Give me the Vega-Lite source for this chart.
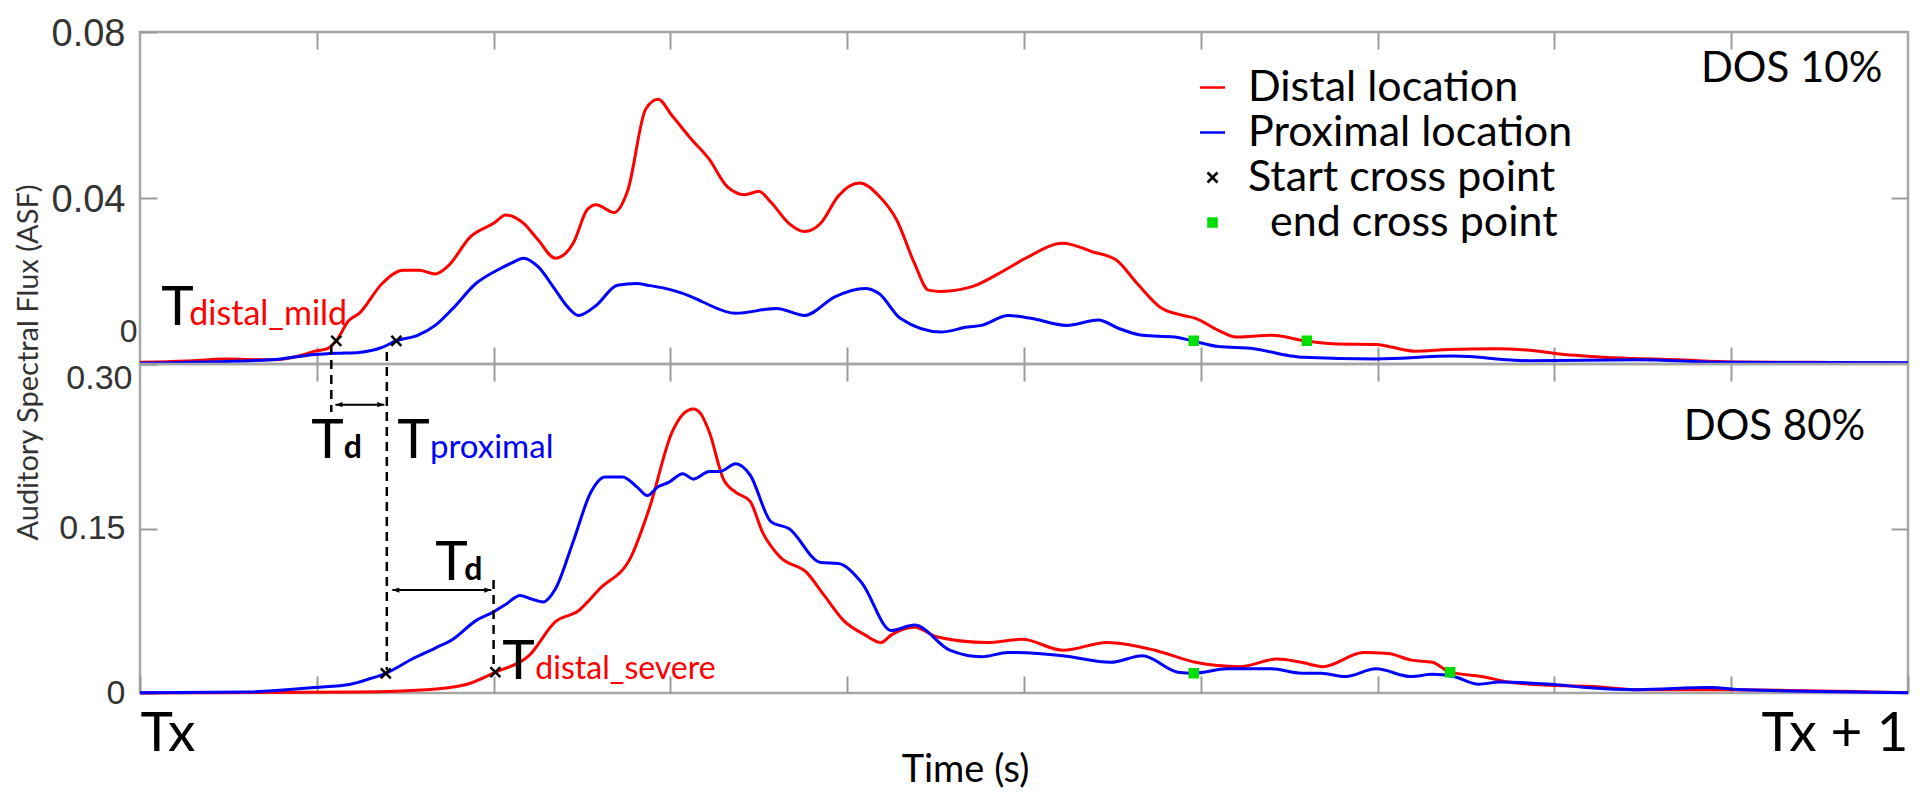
{
  "$schema": "https://vega.github.io/schema/vega-lite/v6.json",
  "background": "white",
  "padding": {"left": 12, "top": 13, "right": 5, "bottom": 0},
  "bounds": "flush",
  "spacing": 0,
  "config": {
    "view": {"stroke": "#a6a6a6", "strokeWidth": 2.5},
    "axis": {"domain": false, "grid": false, "tickSize": -17, "tickColor": "#9a9a9a", "tickWidth": 2},
    "font": "Lato"
  },
  "datasets": {
    "top_lines": [
      {"x":0,"y":0.0004,"s":"Distal location"},{"x":0.026,"y":0.0007,"s":"Distal location"},{"x":0.048,"y":0.0012,"s":"Distal location"},{"x":0.074,"y":0.001,"s":"Distal location"},{"x":0.094,"y":0.0024,"s":"Distal location"},{"x":0.099,"y":0.0031,"s":"Distal location"},{"x":0.106,"y":0.0037,"s":"Distal location"},{"x":0.111,"y":0.0056,"s":"Distal location"},{"x":0.118,"y":0.0104,"s":"Distal location"},{"x":0.124,"y":0.0122,"s":"Distal location"},{"x":0.137,"y":0.0194,"s":"Distal location"},{"x":0.149,"y":0.0226,"s":"Distal location"},{"x":0.158,"y":0.0226,"s":"Distal location"},{"x":0.167,"y":0.0217,"s":"Distal location"},{"x":0.174,"y":0.0235,"s":"Distal location"},{"x":0.187,"y":0.0307,"s":"Distal location"},{"x":0.2,"y":0.0339,"s":"Distal location"},{"x":0.207,"y":0.0359,"s":"Distal location"},{"x":0.217,"y":0.0339,"s":"Distal location"},{"x":0.225,"y":0.03,"s":"Distal location"},{"x":0.235,"y":0.0255,"s":"Distal location"},{"x":0.245,"y":0.0291,"s":"Distal location"},{"x":0.253,"y":0.0372,"s":"Distal location"},{"x":0.258,"y":0.0384,"s":"Distal location"},{"x":0.268,"y":0.0365,"s":"Distal location"},{"x":0.276,"y":0.042,"s":"Distal location"},{"x":0.286,"y":0.0614,"s":"Distal location"},{"x":0.293,"y":0.0638,"s":"Distal location"},{"x":0.301,"y":0.0598,"s":"Distal location"},{"x":0.312,"y":0.0541,"s":"Distal location"},{"x":0.322,"y":0.0493,"s":"Distal location"},{"x":0.332,"y":0.0428,"s":"Distal location"},{"x":0.342,"y":0.0408,"s":"Distal location"},{"x":0.35,"y":0.0416,"s":"Distal location"},{"x":0.357,"y":0.0389,"s":"Distal location"},{"x":0.367,"y":0.0339,"s":"Distal location"},{"x":0.376,"y":0.0319,"s":"Distal location"},{"x":0.385,"y":0.0339,"s":"Distal location"},{"x":0.395,"y":0.0405,"s":"Distal location"},{"x":0.407,"y":0.0436,"s":"Distal location"},{"x":0.418,"y":0.0405,"s":"Distal location"},{"x":0.428,"y":0.0347,"s":"Distal location"},{"x":0.438,"y":0.0243,"s":"Distal location"},{"x":0.446,"y":0.0178,"s":"Distal location"},{"x":0.453,"y":0.0175,"s":"Distal location"},{"x":0.471,"y":0.0187,"s":"Distal location"},{"x":0.489,"y":0.0226,"s":"Distal location"},{"x":0.501,"y":0.0255,"s":"Distal location"},{"x":0.522,"y":0.0291,"s":"Distal location"},{"x":0.539,"y":0.027,"s":"Distal location"},{"x":0.552,"y":0.0251,"s":"Distal location"},{"x":0.564,"y":0.0194,"s":"Distal location"},{"x":0.577,"y":0.0137,"s":"Distal location"},{"x":0.59,"y":0.0117,"s":"Distal location"},{"x":0.597,"y":0.011,"s":"Distal location"},{"x":0.61,"y":0.0081,"s":"Distal location"},{"x":0.62,"y":0.0065,"s":"Distal location"},{"x":0.64,"y":0.0069,"s":"Distal location"},{"x":0.66,"y":0.0055,"s":"Distal location"},{"x":0.677,"y":0.0048,"s":"Distal location"},{"x":0.699,"y":0.0047,"s":"Distal location"},{"x":0.721,"y":0.0031,"s":"Distal location"},{"x":0.74,"y":0.0035,"s":"Distal location"},{"x":0.767,"y":0.0037,"s":"Distal location"},{"x":0.786,"y":0.0033,"s":"Distal location"},{"x":0.803,"y":0.0024,"s":"Distal location"},{"x":0.834,"y":0.0015,"s":"Distal location"},{"x":0.871,"y":0.001,"s":"Distal location"},{"x":0.9,"y":0.0005,"s":"Distal location"},{"x":0.947,"y":0.0004,"s":"Distal location"},{"x":1,"y":0.0002,"s":"Distal location"},
      {"x":0,"y":0.0002,"s":"Proximal location"},{"x":0.074,"y":0.001,"s":"Proximal location"},{"x":0.099,"y":0.0023,"s":"Proximal location"},{"x":0.111,"y":0.0026,"s":"Proximal location"},{"x":0.124,"y":0.0028,"s":"Proximal location"},{"x":0.137,"y":0.004,"s":"Proximal location"},{"x":0.145,"y":0.0056,"s":"Proximal location"},{"x":0.157,"y":0.0069,"s":"Proximal location"},{"x":0.167,"y":0.0093,"s":"Proximal location"},{"x":0.177,"y":0.0134,"s":"Proximal location"},{"x":0.19,"y":0.0194,"s":"Proximal location"},{"x":0.202,"y":0.0226,"s":"Proximal location"},{"x":0.21,"y":0.0243,"s":"Proximal location"},{"x":0.217,"y":0.0255,"s":"Proximal location"},{"x":0.225,"y":0.0235,"s":"Proximal location"},{"x":0.235,"y":0.0178,"s":"Proximal location"},{"x":0.242,"y":0.0137,"s":"Proximal location"},{"x":0.248,"y":0.0117,"s":"Proximal location"},{"x":0.258,"y":0.0141,"s":"Proximal location"},{"x":0.27,"y":0.019,"s":"Proximal location"},{"x":0.281,"y":0.0194,"s":"Proximal location"},{"x":0.287,"y":0.019,"s":"Proximal location"},{"x":0.301,"y":0.0178,"s":"Proximal location"},{"x":0.312,"y":0.0162,"s":"Proximal location"},{"x":0.318,"y":0.015,"s":"Proximal location"},{"x":0.337,"y":0.0122,"s":"Proximal location"},{"x":0.36,"y":0.0134,"s":"Proximal location"},{"x":0.376,"y":0.0117,"s":"Proximal location"},{"x":0.393,"y":0.0162,"s":"Proximal location"},{"x":0.41,"y":0.0182,"s":"Proximal location"},{"x":0.418,"y":0.017,"s":"Proximal location"},{"x":0.43,"y":0.011,"s":"Proximal location"},{"x":0.453,"y":0.0077,"s":"Proximal location"},{"x":0.468,"y":0.0089,"s":"Proximal location"},{"x":0.476,"y":0.0093,"s":"Proximal location"},{"x":0.491,"y":0.0117,"s":"Proximal location"},{"x":0.504,"y":0.011,"s":"Proximal location"},{"x":0.524,"y":0.0093,"s":"Proximal location"},{"x":0.542,"y":0.0106,"s":"Proximal location"},{"x":0.554,"y":0.0085,"s":"Proximal location"},{"x":0.567,"y":0.0069,"s":"Proximal location"},{"x":0.585,"y":0.0065,"s":"Proximal location"},{"x":0.595,"y":0.0056,"s":"Proximal location"},{"x":0.61,"y":0.0042,"s":"Proximal location"},{"x":0.63,"y":0.0037,"s":"Proximal location"},{"x":0.65,"y":0.002,"s":"Proximal location"},{"x":0.658,"y":0.0016,"s":"Proximal location"},{"x":0.699,"y":0.0012,"s":"Proximal location"},{"x":0.743,"y":0.0019,"s":"Proximal location"},{"x":0.786,"y":0.0008,"s":"Proximal location"},{"x":0.847,"y":0.001,"s":"Proximal location"},{"x":0.895,"y":0.0004,"s":"Proximal location"},{"x":1,"y":0.0003,"s":"Proximal location"}
    ],
    "bot_lines": [
      {"x":0,"y":0,"s":"Distal location"},{"x":0.124,"y":0.001,"s":"Distal location"},{"x":0.162,"y":0.003,"s":"Distal location"},{"x":0.185,"y":0.008,"s":"Distal location"},{"x":0.201,"y":0.019,"s":"Distal location"},{"x":0.22,"y":0.034,"s":"Distal location"},{"x":0.235,"y":0.065,"s":"Distal location"},{"x":0.248,"y":0.075,"s":"Distal location"},{"x":0.26,"y":0.095,"s":"Distal location"},{"x":0.278,"y":0.125,"s":"Distal location"},{"x":0.288,"y":0.168,"s":"Distal location"},{"x":0.301,"y":0.238,"s":"Distal location"},{"x":0.307,"y":0.254,"s":"Distal location"},{"x":0.313,"y":0.259,"s":"Distal location"},{"x":0.317,"y":0.255,"s":"Distal location"},{"x":0.322,"y":0.238,"s":"Distal location"},{"x":0.33,"y":0.195,"s":"Distal location"},{"x":0.337,"y":0.183,"s":"Distal location"},{"x":0.345,"y":0.175,"s":"Distal location"},{"x":0.352,"y":0.147,"s":"Distal location"},{"x":0.362,"y":0.124,"s":"Distal location"},{"x":0.377,"y":0.11,"s":"Distal location"},{"x":0.387,"y":0.089,"s":"Distal location"},{"x":0.398,"y":0.066,"s":"Distal location"},{"x":0.41,"y":0.053,"s":"Distal location"},{"x":0.419,"y":0.046,"s":"Distal location"},{"x":0.425,"y":0.053,"s":"Distal location"},{"x":0.438,"y":0.06,"s":"Distal location"},{"x":0.451,"y":0.051,"s":"Distal location"},{"x":0.479,"y":0.046,"s":"Distal location"},{"x":0.499,"y":0.049,"s":"Distal location"},{"x":0.522,"y":0.039,"s":"Distal location"},{"x":0.547,"y":0.046,"s":"Distal location"},{"x":0.574,"y":0.039,"s":"Distal location"},{"x":0.597,"y":0.028,"s":"Distal location"},{"x":0.622,"y":0.024,"s":"Distal location"},{"x":0.643,"y":0.031,"s":"Distal location"},{"x":0.657,"y":0.028,"s":"Distal location"},{"x":0.669,"y":0.024,"s":"Distal location"},{"x":0.692,"y":0.037,"s":"Distal location"},{"x":0.706,"y":0.036,"s":"Distal location"},{"x":0.719,"y":0.03,"s":"Distal location"},{"x":0.731,"y":0.028,"s":"Distal location"},{"x":0.741,"y":0.019,"s":"Distal location"},{"x":0.759,"y":0.015,"s":"Distal location"},{"x":0.774,"y":0.01,"s":"Distal location"},{"x":0.798,"y":0.007,"s":"Distal location"},{"x":0.822,"y":0.006,"s":"Distal location"},{"x":0.847,"y":0.003,"s":"Distal location"},{"x":0.895,"y":0.003,"s":"Distal location"},{"x":1,"y":0.0003,"s":"Distal location"},
      {"x":0,"y":0.0003,"s":"Proximal location"},{"x":0.061,"y":0.001,"s":"Proximal location"},{"x":0.099,"y":0.005,"s":"Proximal location"},{"x":0.119,"y":0.008,"s":"Proximal location"},{"x":0.13,"y":0.013,"s":"Proximal location"},{"x":0.139,"y":0.018,"s":"Proximal location"},{"x":0.154,"y":0.031,"s":"Proximal location"},{"x":0.167,"y":0.041,"s":"Proximal location"},{"x":0.177,"y":0.049,"s":"Proximal location"},{"x":0.19,"y":0.066,"s":"Proximal location"},{"x":0.2,"y":0.074,"s":"Proximal location"},{"x":0.207,"y":0.081,"s":"Proximal location"},{"x":0.215,"y":0.089,"s":"Proximal location"},{"x":0.221,"y":0.086,"s":"Proximal location"},{"x":0.228,"y":0.083,"s":"Proximal location"},{"x":0.235,"y":0.095,"s":"Proximal location"},{"x":0.245,"y":0.138,"s":"Proximal location"},{"x":0.255,"y":0.183,"s":"Proximal location"},{"x":0.263,"y":0.197,"s":"Proximal location"},{"x":0.273,"y":0.197,"s":"Proximal location"},{"x":0.281,"y":0.188,"s":"Proximal location"},{"x":0.287,"y":0.18,"s":"Proximal location"},{"x":0.293,"y":0.188,"s":"Proximal location"},{"x":0.299,"y":0.192,"s":"Proximal location"},{"x":0.307,"y":0.2,"s":"Proximal location"},{"x":0.313,"y":0.195,"s":"Proximal location"},{"x":0.322,"y":0.202,"s":"Proximal location"},{"x":0.328,"y":0.202,"s":"Proximal location"},{"x":0.337,"y":0.209,"s":"Proximal location"},{"x":0.345,"y":0.199,"s":"Proximal location"},{"x":0.357,"y":0.156,"s":"Proximal location"},{"x":0.367,"y":0.15,"s":"Proximal location"},{"x":0.385,"y":0.119,"s":"Proximal location"},{"x":0.395,"y":0.118,"s":"Proximal location"},{"x":0.408,"y":0.101,"s":"Proximal location"},{"x":0.425,"y":0.057,"s":"Proximal location"},{"x":0.438,"y":0.062,"s":"Proximal location"},{"x":0.458,"y":0.039,"s":"Proximal location"},{"x":0.476,"y":0.033,"s":"Proximal location"},{"x":0.491,"y":0.037,"s":"Proximal location"},{"x":0.522,"y":0.034,"s":"Proximal location"},{"x":0.549,"y":0.028,"s":"Proximal location"},{"x":0.567,"y":0.034,"s":"Proximal location"},{"x":0.587,"y":0.019,"s":"Proximal location"},{"x":0.596,"y":0.018,"s":"Proximal location"},{"x":0.615,"y":0.022,"s":"Proximal location"},{"x":0.64,"y":0.022,"s":"Proximal location"},{"x":0.657,"y":0.018,"s":"Proximal location"},{"x":0.668,"y":0.018,"s":"Proximal location"},{"x":0.682,"y":0.015,"s":"Proximal location"},{"x":0.699,"y":0.022,"s":"Proximal location"},{"x":0.719,"y":0.015,"s":"Proximal location"},{"x":0.731,"y":0.017,"s":"Proximal location"},{"x":0.743,"y":0.015,"s":"Proximal location"},{"x":0.757,"y":0.008,"s":"Proximal location"},{"x":0.769,"y":0.01,"s":"Proximal location"},{"x":0.798,"y":0.008,"s":"Proximal location"},{"x":0.818,"y":0.005,"s":"Proximal location"},{"x":0.847,"y":0.003,"s":"Proximal location"},{"x":0.888,"y":0.005,"s":"Proximal location"},{"x":0.907,"y":0.003,"s":"Proximal location"},{"x":1,"y":0.0003,"s":"Proximal location"}
    ],
    "top_marks": [
      {"x":0.111,"y":0.0056,"kind":"Start cross point"},{"x":0.145,"y":0.0056,"kind":"Start cross point"},
      {"x":0.596,"y":0.0056,"kind":"end cross point"},{"x":0.66,"y":0.0056,"kind":"end cross point"}
    ],
    "bot_marks": [
      {"x":0.139,"y":0.018,"kind":"Start cross point"},{"x":0.201,"y":0.019,"kind":"Start cross point"},
      {"x":0.596,"y":0.018,"kind":"end cross point"},{"x":0.741,"y":0.019,"kind":"end cross point"}
    ],
    "dashes": [
      {"x":0.1082,"y":0.3173,"y2":0.2562},
      {"x":0.1396,"y":0.3109,"y2":0.021},
      {"x":0.2,"y":0.103,"y2":0.021}
    ],
    "arrows": [
      {"x":0.1105,"x2":0.1382,"y":0.2629},
      {"x":0.1427,"x2":0.1987,"y":0.0939}
    ]
  },
  "vconcat": [
    {
      "width": 1768,
      "height": 332,
      "resolve": {"axis": {"x": "independent", "y": "independent"}},
      "layer": [
        {
          "data": {"name": "top_lines"},
          "mark": {"type": "line", "strokeWidth": 3, "interpolate": "monotone"},
          "encoding": {
            "x": {"field": "x", "type": "quantitative", "scale": {"domain": [0, 1], "nice": false, "zero": false},
                  "axis": {"orient": "bottom", "values": [0.1,0.2,0.3,0.4,0.5,0.6,0.7,0.8,0.9], "labels": false, "title": null}},
            "y": {"field": "y", "type": "quantitative", "scale": {"domain": [0, 0.08], "nice": false},
                  "axis": {"orient": "left", "values": [0, 0.04, 0.08],
                           "labelExpr": "datum.value === 0 ? '0' : format(datum.value, '.2f')",
                           "title": "Auditory Spectral Flux (ASF)", "titleX": -112, "titleY": 330, "titleAngle": -90,
                           "titleAlign": "center", "titleBaseline": "middle", "titleFont": "Lato", "titleFontSize": 29,
                           "titleFontWeight": "normal", "titleColor": "#333333",
                           "labelFont": "Liberation Sans", "labelColor": "#333333", "labelBaseline": "middle",
                           "labelFontSize": {"condition": {"test": "datum.value === 0", "value": 32}, "value": 38},
                           "labelOffset": {"condition": {"test": "datum.value === 0", "value": -33}, "value": 2},
                           "labelPadding": {"condition": {"test": "datum.value === 0", "value": 20}, "value": 32}}},
            "stroke": {"field": "s", "type": "nominal", "scale": {"domain": ["Distal location", "Proximal location"], "range": ["#ff0000", "#0000ff"]}, "legend": null}
          }
        },
        {
          "data": {"name": "top_marks"},
          "mark": {"type": "point", "filled": false, "size": 100, "strokeWidth": 2.5, "opacity": 1},
          "encoding": {
            "x": {"field": "x", "type": "quantitative", "scale": {"domain": [0, 1], "nice": false, "zero": false},
                  "axis": {"orient": "top", "values": [0.1,0.2,0.3,0.4,0.5,0.6,0.7,0.8,0.9], "labels": false, "title": null}},
            "y": {"field": "y", "type": "quantitative", "scale": {"domain": [0, 0.08], "nice": false},
                  "axis": {"orient": "right", "values": [0.04], "labels": false, "title": null}},
            "color": {"field": "kind", "type": "nominal",
                      "scale": {"domain": ["Distal location", "Proximal location", "Start cross point", "end cross point"], "range": ["#ff0000", "#0000ff", "#000000", "#00dd00"]},
                      "legend": {"title": null, "orient": "none", "legendX": 1051, "legendY": 34, "padding": 0,
                                 "labelFont": "Lato", "labelFontSize": 43, "labelColor": "#000000", "labelOffset": 14, "labelLimit": 0,
                                 "symbolSize": 100, "symbolStrokeWidth": 2.5, "rowPadding": 1,
                                 "labelExpr": "datum.label === 'end cross point' ? '\u200b\u00a0\u00a0end cross point' : datum.label"}},
            "shape": {"field": "kind", "type": "nominal",
                      "scale": {"domain": ["Distal location", "Proximal location", "Start cross point", "end cross point"],
                                "range": ["M-2.5,0L2.5,0", "M-2.5,0L2.5,0", "M-1,-1L1,1M-1,1L1,-1", "M-0.8,-0.8H0.8V0.8H-0.8Z M-0.8,-0.28H0.8 M-0.8,0.28H0.8 M-0.8,0H0.8"]},
                      "legend": {"title": null, "orient": "none", "legendX": 1051, "legendY": 34, "padding": 0,
                                 "labelFont": "Lato", "labelFontSize": 43, "labelColor": "#000000", "labelOffset": 14, "labelLimit": 0,
                                 "symbolSize": 100, "symbolStrokeWidth": 2.5, "rowPadding": 1,
                                 "labelExpr": "datum.label === 'end cross point' ? '\u200b\u00a0\u00a0end cross point' : datum.label"}}
          }
        },
        {
          "data": {"values": [{"x": 0.012, "y": 0.0094, "t": "T"}]},
          "mark": {"type": "text", "font": "Lato", "fontSize": 55, "align": "left", "baseline": "alphabetic", "color": "#000000"},
          "encoding": {
            "x": {"field": "x", "type": "quantitative", "scale": {"domain": [0, 1], "nice": false, "zero": false}, "axis": null},
            "y": {"field": "y", "type": "quantitative", "scale": {"domain": [0, 0.08], "nice": false}, "axis": null},
            "text": {"field": "t", "type": "nominal"}
          }
        },
        {
          "data": {"values": [{"x": 0.0279, "y": 0.0094, "t": "distal_mild"}]},
          "mark": {"type": "text", "font": "Lato", "fontSize": 34, "align": "left", "baseline": "alphabetic", "color": "#ff0000"},
          "encoding": {
            "x": {"field": "x", "type": "quantitative", "scale": {"domain": [0, 1], "nice": false, "zero": false}, "axis": null},
            "y": {"field": "y", "type": "quantitative", "scale": {"domain": [0, 0.08], "nice": false}, "axis": null},
            "text": {"field": "t", "type": "nominal"}
          }
        },
        {
          "data": {"values": [{"x": 0.9855, "y": 0.0712, "t": "DOS 10%"}]},
          "mark": {"type": "text", "font": "Lato", "fontSize": 42, "align": "right", "baseline": "middle", "color": "#000000"},
          "encoding": {
            "x": {"field": "x", "type": "quantitative", "scale": {"domain": [0, 1], "nice": false, "zero": false}, "axis": null},
            "y": {"field": "y", "type": "quantitative", "scale": {"domain": [0, 0.08], "nice": false}, "axis": null},
            "text": {"field": "t", "type": "nominal"}
          }
        }
      ]
    },
    {
      "width": 1768,
      "height": 329,
      "resolve": {"axis": {"x": "independent", "y": "independent"}},
      "layer": [
        {
          "data": {"name": "bot_lines"},
          "mark": {"type": "line", "strokeWidth": 3, "interpolate": "monotone"},
          "encoding": {
            "x": {"field": "x", "type": "quantitative", "scale": {"domain": [0, 1], "nice": false, "zero": false},
                  "axis": {"orient": "bottom", "values": [0,0.1,0.2,0.3,0.4,0.5,0.6,0.7,0.8,0.9,1],
                           "labelExpr": "datum.value === 0 ? 'Tx' : (datum.value === 1 ? 'Tx + 1' : '')",
                           "labelFlush": true, "labelOverlap": false, "labelFont": "Lato", "labelFontSize": 55,
                           "labelColor": "#000000", "labelBaseline": "alphabetic", "labelPadding": 74,
                           "title": "Time (s)", "titleFont": "Lato", "titleFontSize": 38, "titleFontWeight": "normal",
                           "titleColor": "#000000", "titleX": 825, "titleY": 77, "titleAlign": "center", "titleBaseline": "middle"}},
            "y": {"field": "y", "type": "quantitative", "scale": {"domain": [0, 0.3], "nice": false},
                  "axis": {"orient": "left", "values": [0, 0.15, 0.3], "title": null,
                           "labelExpr": "datum.value === 0 ? '0' : format(datum.value, '.2f')",
                           "labelFont": "Liberation Sans", "labelColor": "#333333", "labelBaseline": "middle", "labelFontSize": 34,
                           "labelOffset": {"condition": {"test": "datum.value === 0.3", "value": 14}, "value": 0},
                           "labelPadding": {"condition": {"test": "datum.value === 0.3", "value": 25}, "value": 32}}},
            "stroke": {"field": "s", "type": "nominal", "scale": {"domain": ["Distal location", "Proximal location"], "range": ["#ff0000", "#0000ff"]}, "legend": null}
          }
        },
        {
          "data": {"name": "bot_marks"},
          "mark": {"type": "point", "filled": false, "size": 100, "strokeWidth": 2.5, "opacity": 1},
          "encoding": {
            "x": {"field": "x", "type": "quantitative", "scale": {"domain": [0, 1], "nice": false, "zero": false},
                  "axis": {"orient": "top", "values": [0.1,0.2,0.3,0.4,0.5,0.6,0.7,0.8,0.9], "labels": false, "title": null}},
            "y": {"field": "y", "type": "quantitative", "scale": {"domain": [0, 0.3], "nice": false},
                  "axis": {"orient": "right", "values": [0.15], "labels": false, "title": null}},
            "color": {"field": "kind", "type": "nominal",
                      "scale": {"domain": ["Distal location", "Proximal location", "Start cross point", "end cross point"], "range": ["#ff0000", "#0000ff", "#000000", "#00dd00"]},
                      "legend": null},
            "shape": {"field": "kind", "type": "nominal",
                      "scale": {"domain": ["Distal location", "Proximal location", "Start cross point", "end cross point"],
                                "range": ["M-2.5,0L2.5,0", "M-2.5,0L2.5,0", "M-1,-1L1,1M-1,1L1,-1", "M-0.8,-0.8H0.8V0.8H-0.8Z M-0.8,-0.28H0.8 M-0.8,0.28H0.8 M-0.8,0H0.8"]},
                      "legend": null}
          }
        },
        {
          "data": {"name": "dashes"},
          "mark": {"type": "rule", "strokeDash": [9, 6], "strokeWidth": 2.5, "color": "#000000"},
          "encoding": {
            "x": {"field": "x", "type": "quantitative", "scale": {"domain": [0, 1], "nice": false, "zero": false}, "axis": null},
            "y": {"field": "y", "type": "quantitative", "scale": {"domain": [0, 0.3], "nice": false}, "axis": null},
            "y2": {"field": "y2"}
          }
        },
        {
          "data": {"name": "arrows"},
          "mark": {"type": "rule", "strokeWidth": 2, "color": "#000000"},
          "encoding": {
            "x": {"field": "x", "type": "quantitative", "scale": {"domain": [0, 1], "nice": false, "zero": false}, "axis": null},
            "x2": {"field": "x2"},
            "y": {"field": "y", "type": "quantitative", "scale": {"domain": [0, 0.3], "nice": false}, "axis": null}
          }
        },
        {
          "data": {"name": "arrows"},
          "mark": {"type": "point", "shape": "M0,0L2,-0.75L2,0.75Z", "filled": true, "color": "#000000", "size": 49, "opacity": 1},
          "encoding": {
            "x": {"field": "x", "type": "quantitative", "scale": {"domain": [0, 1], "nice": false, "zero": false}, "axis": null},
            "y": {"field": "y", "type": "quantitative", "scale": {"domain": [0, 0.3], "nice": false}, "axis": null}
          }
        },
        {
          "data": {"name": "arrows"},
          "mark": {"type": "point", "shape": "M0,0L-2,-0.75L-2,0.75Z", "filled": true, "color": "#000000", "size": 49, "opacity": 1},
          "encoding": {
            "x": {"field": "x2", "type": "quantitative", "scale": {"domain": [0, 1], "nice": false, "zero": false}, "axis": null},
            "y": {"field": "y", "type": "quantitative", "scale": {"domain": [0, 0.3], "nice": false}, "axis": null}
          }
        },
        {
          "data": {"values": [{"x": 0.0969, "y": 0.2143, "t": "T"}, {"x": 0.1455, "y": 0.2143, "t": "T"}, {"x": 0.167, "y": 0.103, "t": "T"}, {"x": 0.2049, "y": 0.0128, "t": "T"}]},
          "mark": {"type": "text", "font": "Lato", "fontSize": 55, "align": "left", "baseline": "alphabetic", "color": "#000000"},
          "encoding": {
            "x": {"field": "x", "type": "quantitative", "scale": {"domain": [0, 1], "nice": false, "zero": false}, "axis": null},
            "y": {"field": "y", "type": "quantitative", "scale": {"domain": [0, 0.3], "nice": false}, "axis": null},
            "text": {"field": "t", "type": "nominal"}
          }
        },
        {
          "data": {"values": [{"x": 0.1153, "y": 0.2143, "t": "d"}, {"x": 0.1834, "y": 0.103, "t": "d"}]},
          "mark": {"type": "text", "font": "Lato", "fontSize": 32, "fontWeight": "bold", "align": "left", "baseline": "alphabetic", "color": "#000000"},
          "encoding": {
            "x": {"field": "x", "type": "quantitative", "scale": {"domain": [0, 1], "nice": false, "zero": false}, "axis": null},
            "y": {"field": "y", "type": "quantitative", "scale": {"domain": [0, 0.3], "nice": false}, "axis": null},
            "text": {"field": "t", "type": "nominal"}
          }
        },
        {
          "data": {"values": [{"x": 0.164, "y": 0.2143, "t": "proximal"}]},
          "mark": {"type": "text", "font": "Lato", "fontSize": 33, "align": "left", "baseline": "alphabetic", "color": "#0000ff"},
          "encoding": {
            "x": {"field": "x", "type": "quantitative", "scale": {"domain": [0, 1], "nice": false, "zero": false}, "axis": null},
            "y": {"field": "y", "type": "quantitative", "scale": {"domain": [0, 0.3], "nice": false}, "axis": null},
            "text": {"field": "t", "type": "nominal"}
          }
        },
        {
          "data": {"values": [{"x": 0.2236, "y": 0.0128, "t": "distal_severe"}]},
          "mark": {"type": "text", "font": "Lato", "fontSize": 32, "align": "left", "baseline": "alphabetic", "color": "#ff0000"},
          "encoding": {
            "x": {"field": "x", "type": "quantitative", "scale": {"domain": [0, 1], "nice": false, "zero": false}, "axis": null},
            "y": {"field": "y", "type": "quantitative", "scale": {"domain": [0, 0.3], "nice": false}, "axis": null},
            "text": {"field": "t", "type": "nominal"}
          }
        },
        {
          "data": {"values": [{"x": 0.9758, "y": 0.2426, "t": "DOS 80%"}]},
          "mark": {"type": "text", "font": "Lato", "fontSize": 42, "align": "right", "baseline": "middle", "color": "#000000"},
          "encoding": {
            "x": {"field": "x", "type": "quantitative", "scale": {"domain": [0, 1], "nice": false, "zero": false}, "axis": null},
            "y": {"field": "y", "type": "quantitative", "scale": {"domain": [0, 0.3], "nice": false}, "axis": null},
            "text": {"field": "t", "type": "nominal"}
          }
        }
      ]
    }
  ]
}
